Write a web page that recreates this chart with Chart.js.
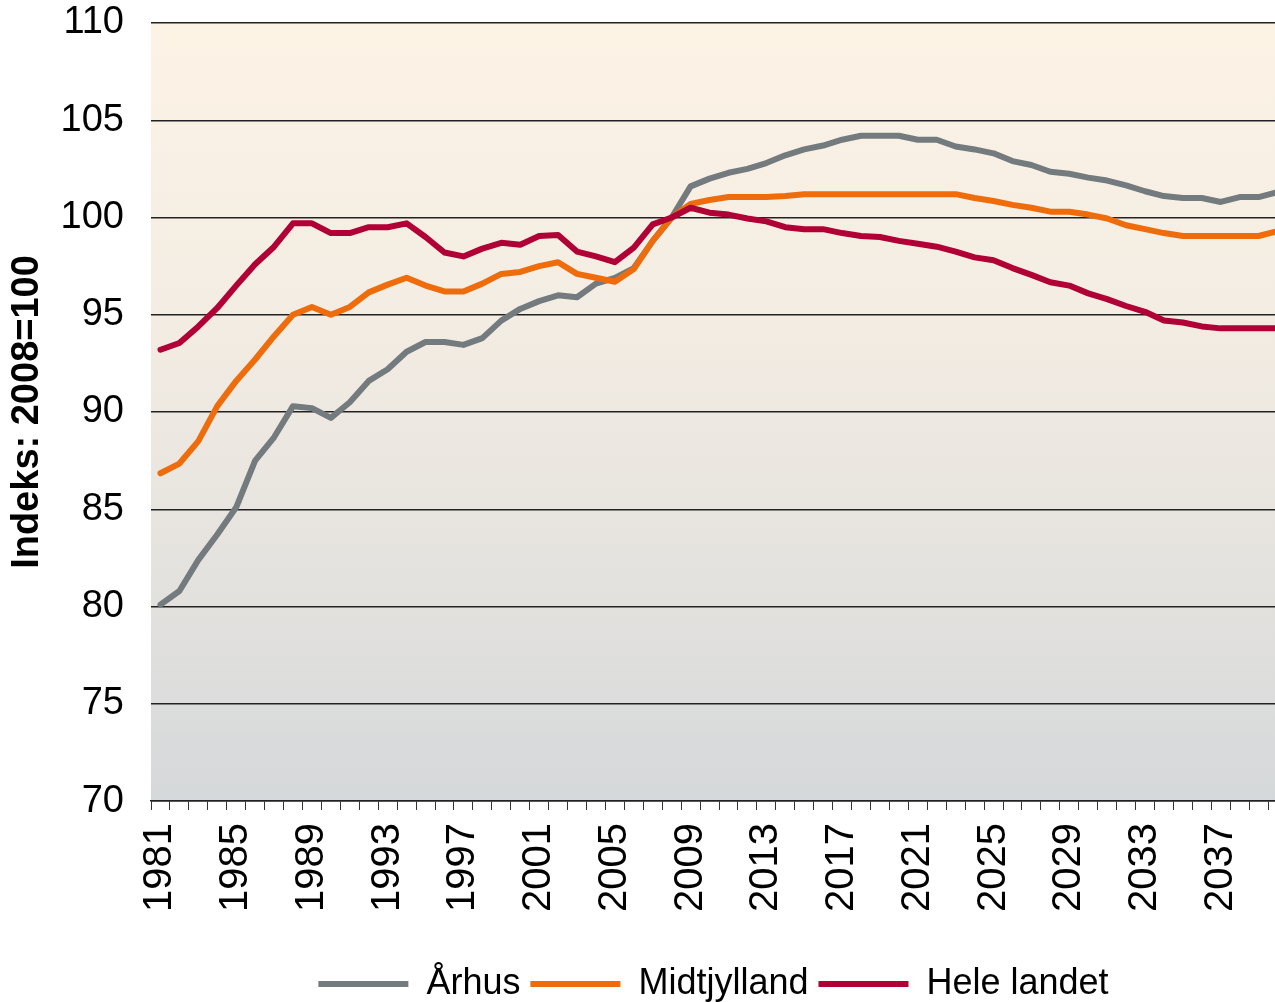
<!DOCTYPE html>
<html>
<head>
<meta charset="utf-8">
<script src="https://cdn.jsdelivr.net/npm/chart.js@4/dist/chart.umd.min.js"></script>
<style>
  html, body { margin: 0; padding: 0; background: #fff; overflow: hidden; }
  #wrap { width: 1287px; height: 1002px; }
</style>
</head>
<body>
<div id="wrap"><canvas id="chart" width="1287" height="1002"></canvas></div>
<script>
const years = [
  "1981","1982","1983","1984","1985","1986","1987","1988","1989","1990",
  "1991","1992","1993","1994","1995","1996","1997","1998","1999","2000",
  "2001","2002","2003","2004","2005","2006","2007","2008","2009","2010",
  "2011","2012","2013","2014","2015","2016","2017","2018","2019","2020",
  "2021","2022","2023","2024","2025","2026","2027","2028","2029","2030",
  "2031","2032","2033","2034","2035","2036","2037","2038","2039","2040"
];

const aarhus = [
  80.1, 80.8, 82.4, 83.7, 85.1, 87.5, 88.7, 90.3, 90.2, 89.7,
  90.5, 91.6, 92.2, 93.1, 93.6, 93.6, 93.45, 93.8, 94.7, 95.3,
  95.7, 96.0, 95.9, 96.6, 96.9, 97.4, 98.8, 100.0, 101.6, 102.0,
  102.3, 102.5, 102.8, 103.2, 103.5, 103.7, 104.0, 104.2, 104.2, 104.2,
  104.0, 104.0, 103.65, 103.5, 103.3, 102.9, 102.7, 102.35, 102.25, 102.05,
  101.9, 101.65, 101.35, 101.1, 101.0, 101.0, 100.8, 101.05, 101.05, 101.3
];

const midtjylland = [
  86.85, 87.35, 88.5, 90.3, 91.6, 92.7, 93.9, 95.0, 95.4, 95.0,
  95.4, 96.15, 96.55, 96.9, 96.5, 96.2, 96.2, 96.6, 97.1, 97.2,
  97.5, 97.7, 97.1, 96.9, 96.7, 97.35, 98.8, 100.0, 100.7, 100.9,
  101.05, 101.05, 101.05, 101.1, 101.2, 101.2, 101.2, 101.2, 101.2, 101.2,
  101.2, 101.2, 101.2, 101.0, 100.85, 100.65, 100.5, 100.3, 100.3, 100.15,
  99.95, 99.6, 99.4, 99.2, 99.05, 99.05, 99.05, 99.05, 99.05, 99.3
];

const heleLandet = [
  93.2, 93.55, 94.4, 95.35, 96.5, 97.6, 98.5, 99.7, 99.7, 99.2,
  99.2, 99.5, 99.5, 99.7, 99.0, 98.2, 98.0, 98.4, 98.7, 98.6,
  99.05, 99.1, 98.25, 98.0, 97.7, 98.45, 99.65, 100.0, 100.5, 100.25,
  100.15, 99.95, 99.8, 99.5, 99.4, 99.4, 99.2, 99.05, 99.0, 98.8,
  98.65, 98.5, 98.25, 97.95, 97.8, 97.4, 97.05, 96.67, 96.5, 96.1,
  95.8, 95.45, 95.15, 94.7, 94.6, 94.4, 94.3, 94.3, 94.3, 94.3
];

const seriesNames = ["Århus", "Midtjylland", "Hele landet"];
const seriesColors = ["#737B7E", "#EE6C0C", "#B00035"];
const yTicks = [70, 75, 80, 85, 90, 95, 100, 105, 110];

const fontFamily = "'Liberation Sans', Arial, sans-serif";

// cream-to-grey fill behind the plot area
const plotBackground = {
  id: "plotBackground",
  beforeDraw(chart) {
    const { ctx, chartArea: a } = chart;
    const g = ctx.createLinearGradient(0, a.top, 0, a.bottom);
    g.addColorStop(0, "#FCF3E5");
    g.addColorStop(0.35, "#F4EDE3");
    g.addColorStop(0.65, "#E7E4DF");
    g.addColorStop(1, "#D5D8DA");
    ctx.save();
    ctx.fillStyle = g;
    ctx.fillRect(a.left, a.top, a.right - a.left, a.bottom - a.top);
    ctx.restore();
  }
};

// the legend sits under the plot, centred on the plot area
const legendShift = {
  id: "legendShift",
  afterLayout(chart) {
    const lg = chart.legend;
    lg.left += 70; lg.right += 70;
    lg.top += 31; lg.bottom += 31;
  }
};

const datasets = [aarhus, midtjylland, heleLandet].map((data, i) => ({
  label: seriesNames[i],
  data: data,
  borderColor: seriesColors[i],
  backgroundColor: seriesColors[i],
  borderWidth: 6,
  pointRadius: 0,
  tension: 0,
  borderJoinStyle: "round",
  borderCapStyle: "round",
  order: 3 - i
}));

new Chart(document.getElementById("chart"), {
  type: "line",
  data: { labels: years, datasets: datasets },
  plugins: [plotBackground, legendShift],
  options: {
    responsive: false,
    animation: false,
    layout: { padding: { top: 23, right: 0, bottom: 21, left: 0 } },
    plugins: {
      tooltip: { enabled: false },
      legend: {
        position: "bottom",
        labels: {
          font: { family: fontFamily, size: 36 },
          color: "#000",
          boxWidth: 90,
          boxHeight: 6,
          padding: 10,
          sort: (a, b) => a.datasetIndex - b.datasetIndex,
          generateLabels(chart) {
            return Chart.defaults.plugins.legend.labels.generateLabels(chart).map(l => ({
              ...l, lineWidth: 0, fillStyle: l.strokeStyle
            }));
          }
        }
      }
    },
    scales: {
      x: {
        offset: true,
        afterFit(scale) {
          scale.paddingLeft = 0;
          scale.paddingRight = 0;
        },
        grid: {
          offset: true,
          drawOnChartArea: false,
          drawTicks: true,
          tickLength: 9,
          tickColor: "#333",
          lineWidth: 1
        },
        border: { display: true, color: "#222", width: 1.5 },
        ticks: {
          autoSkip: false,
          maxRotation: 90,
          minRotation: 90,
          padding: 13,
          color: "#000",
          font: { family: fontFamily, size: 40 },
          callback: function (val, idx) {
            return idx % 4 === 0 ? years[idx] : "";
          }
        }
      },
      y: {
        min: 70,
        max: 110,
        afterBuildTicks(scale) {
          scale.ticks = yTicks.map(v => ({ value: v }));
        },
        afterFit(scale) {
          scale.width = 151;
          scale.paddingTop = 0;
          scale.paddingBottom = 0;
        },
        grid: { color: "#222", lineWidth: 1.5, drawTicks: false },
        border: { display: false },
        ticks: {
          padding: 27,
          color: "#000",
          font: { family: fontFamily, size: 38 }
        },
        title: {
          display: true,
          text: "Indeks: 2008=100",
          color: "#000",
          font: { family: fontFamily, size: 38, weight: "bold" },
          padding: { top: 5, bottom: 0 }
        }
      }
    }
  }
});
</script>
</body>
</html>
